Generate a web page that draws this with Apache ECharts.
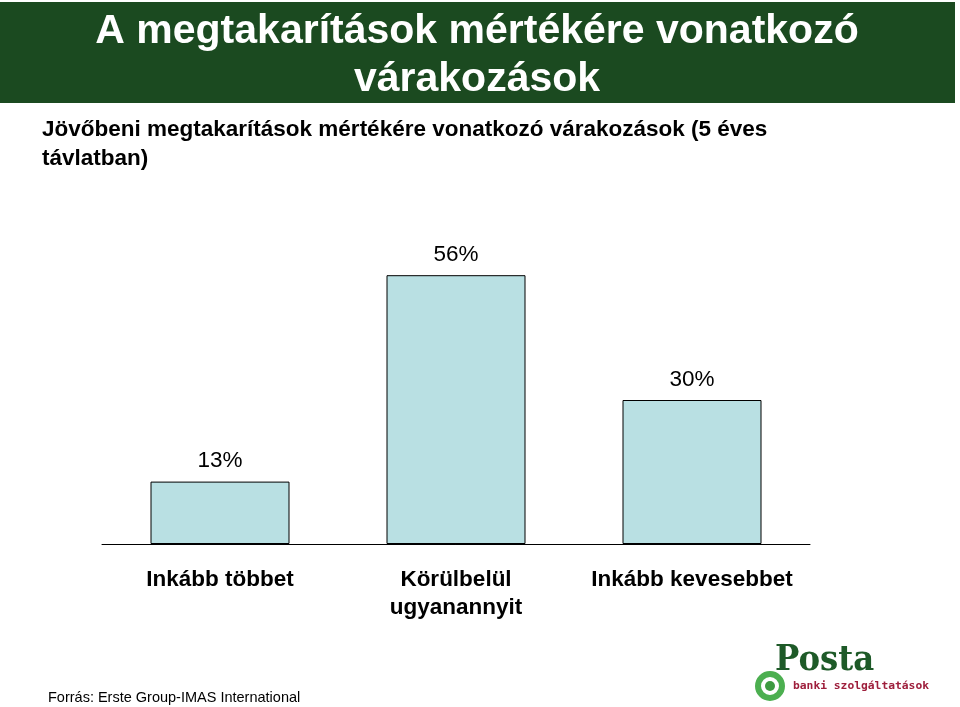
<!DOCTYPE html>
<html><head><meta charset="utf-8">
<script src="https://cdn.jsdelivr.net/npm/echarts@6/dist/echarts.min.js"></script>
<style>html,body{margin:0;padding:0;background:#fff}#c{width:960px;height:707px}</style>
</head><body><div id="c"></div>
<script>
const categories = ['Inkább többet', 'Körülbelül\nugyanannyit', 'Inkább kevesebbet'];
const values = [13, 56, 30];
const chart = echarts.init(document.getElementById('c'));
const F = 'Arial, "Liberation Sans", sans-serif';
chart.setOption({
  animation: false,
  graphic: [
    {type:'rect', shape:{x:0,y:2,width:955,height:101}, style:{fill:'#1b4a20'}},
    {type:'text', x:477, y:8, style:{text:'A megtakarítások mértékére vonatkozó\nvárakozások', fill:'#fff', font:'bold 41px '+F, textAlign:'center', lineHeight:48}},
    {type:'text', x:42, y:115, style:{text:'Jövőbeni megtakarítások mértékére vonatkozó várakozások (5 éves\ntávlatban)', fill:'#000', font:'bold 22.5px '+F, lineHeight:29}},
    {type:'text', x:48, y:690, style:{text:'Forrás: Erste Group-IMAS International', fill:'#000', font:'14.5px '+F}},
    {type:'circle', shape:{cx:770,cy:686,r:12}, style:{fill:'none', stroke:'#4caf50', lineWidth:6}},
    {type:'circle', shape:{cx:770,cy:686,r:5}, style:{fill:'#3d9a40'}},
    {type:'text', x:775, y:643, style:{text:'Posta', fill:'#1e5a28', font:'bold 36px "DejaVu Serif Condensed", "DejaVu Serif", serif'}},
    {type:'text', x:793, y:681, style:{text:'banki szolgáltatások', fill:'#9e1f3c', font:'bold 11.3px "DejaVu Sans Mono", monospace'}}
  ],
  grid: {left:102, right:150, top:256, bottom:163},
  xAxis: {type:'category', data:categories,
    axisLine:{lineStyle:{color:'#000', width:1}}, axisTick:{show:false},
    axisLabel:{interval:0, color:'#000', fontFamily:F, fontWeight:'bold', fontSize:22.5, lineHeight:28, margin:22}},
  yAxis: {type:'value', min:0, max:60, show:false},
  series: [{type:'bar', data:values, barWidth:139,
    itemStyle:{color:'#b9e0e3', borderColor:'#000', borderWidth:1},
    label:{show:true, position:'top', distance:9, formatter:'{c}%', color:'#000', fontFamily:F, fontSize:22.5}}]
});
</script></body></html>
